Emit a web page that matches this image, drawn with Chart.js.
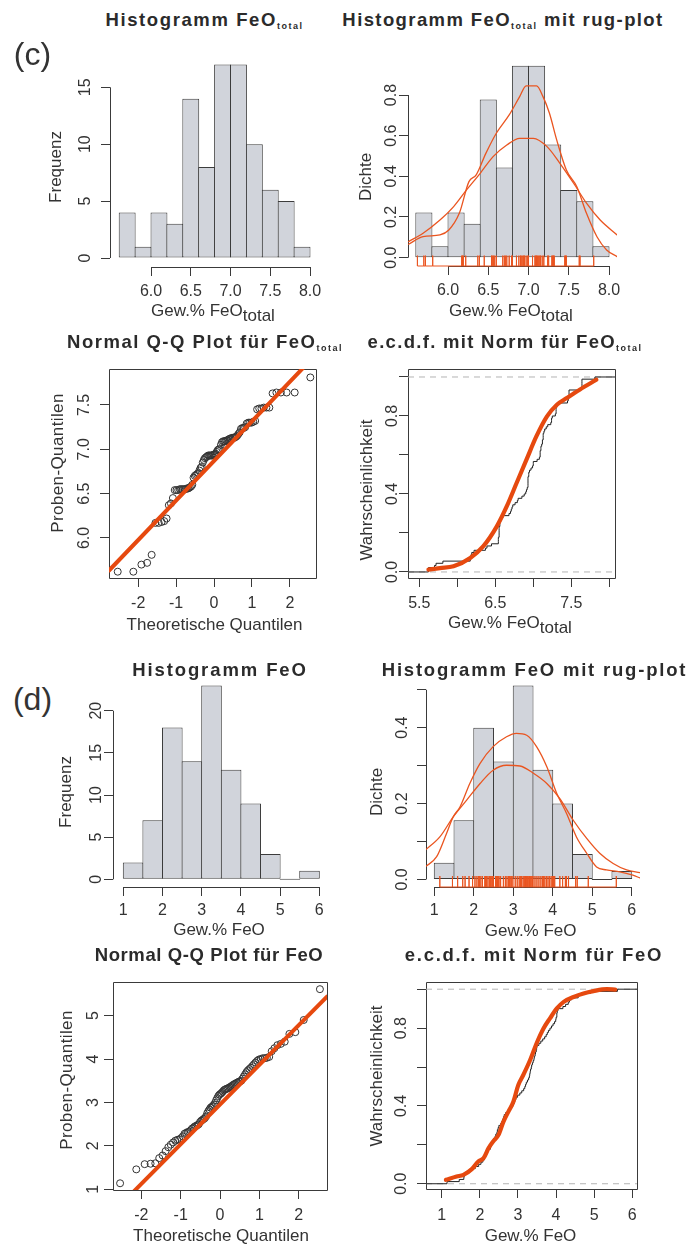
<!DOCTYPE html>
<html lang="de">
<head>
<meta charset="utf-8">
<title>FeO Verteilungen</title>
<script src="https://cdn.jsdelivr.net/npm/chart.js@4.4.1/dist/chart.umd.min.js"></script>
<style>
  body { margin: 0; background: #fff; }
  #fig { position: relative; width: 692px; height: 1247px; overflow: hidden;
         font-family: "Liberation Sans", Arial, sans-serif; color: #333; }
  #fig canvas { position: absolute; }
  .t { position: absolute; white-space: nowrap; line-height: 1; transform: translate(-50%, -50%); }
  .main { font-weight: bold; font-size: 18.5px; color: #2b2b2b; }
  .main .s { font-size: 9px; letter-spacing: 1.5px; position: relative; top: 3px; }
  .ax { font-size: 17px; }
  .ax .s { position: relative; top: 5px; }
  .rot { transform: translate(-50%, -50%) rotate(-90deg); }
  .tag { font-size: 32px; color: #333; }
</style>
</head>
<body>
<div id="fig"></div>
<script>
// ---- data (n = 90 for both oxides) ----
const normQuantiles = [
  -2.540, -2.128, -1.915, -1.764, -1.645, -1.545, -1.459, -1.383, -1.314, -1.251,
  -1.192, -1.137, -1.085, -1.036, -0.990, -0.945, -0.903, -0.862, -0.822, -0.783,
  -0.746, -0.710, -0.674, -0.640, -0.606, -0.573, -0.540, -0.508, -0.477, -0.446,
  -0.416, -0.385, -0.356, -0.326, -0.297, -0.268, -0.240, -0.210, -0.182, -0.154,
  -0.126, -0.098, -0.070, -0.042, -0.014, 0.014, 0.042, 0.070, 0.098, 0.126,
  0.154, 0.182, 0.210, 0.240, 0.268, 0.297, 0.326, 0.356, 0.385, 0.416,
  0.446, 0.477, 0.508, 0.540, 0.573, 0.606, 0.640, 0.674, 0.710, 0.746,
  0.783, 0.822, 0.862, 0.903, 0.945, 0.990, 1.036, 1.085, 1.137, 1.192,
  1.251, 1.314, 1.383, 1.459, 1.545, 1.645, 1.764, 1.915, 2.128, 2.540
];

// sorted samples (Q-Q plot y values / rug positions)
const feoTotal = [
  5.62, 5.62, 5.70, 5.72, 5.81,
  6.17, 6.17, 6.18, 6.19, 6.22, 6.37, 6.39,
  6.45, 6.54, 6.54, 6.54, 6.55, 6.55, 6.55, 6.55, 6.55, 6.56, 6.56, 6.57, 6.58, 6.60,
  6.68, 6.70, 6.71, 6.72, 6.73, 6.76, 6.79, 6.80,
  6.85, 6.88, 6.90, 6.91, 6.92, 6.93, 6.93, 6.93, 6.93, 6.93, 6.94, 6.94, 6.95, 6.97, 6.99, 7.00, 7.00,
  7.05, 7.08, 7.09, 7.09, 7.09, 7.10, 7.10, 7.11, 7.12, 7.12, 7.13, 7.13, 7.13, 7.14, 7.15, 7.17, 7.19,
  7.23, 7.24, 7.24, 7.25, 7.29, 7.30, 7.30, 7.30, 7.31, 7.32,
  7.45, 7.46, 7.46, 7.47, 7.47, 7.47,
  7.63, 7.64, 7.64, 7.64, 7.64,
  7.81
];
const feo = [
  1.14, 1.46,
  1.58, 1.59, 1.60, 1.72, 1.78, 1.88, 1.97,
  2.03, 2.08, 2.12, 2.14, 2.15, 2.18, 2.22, 2.28, 2.30, 2.32, 2.33, 2.36, 2.40, 2.42, 2.45, 2.46, 2.48, 2.50,
  2.55, 2.58, 2.60, 2.62, 2.64, 2.68, 2.75, 2.80, 2.84, 2.88, 2.90, 2.92, 2.95, 2.99,
  3.05, 3.10, 3.15, 3.18, 3.20, 3.22, 3.25, 3.28, 3.30, 3.31, 3.32, 3.33, 3.35, 3.36, 3.38, 3.40,
  3.42, 3.43, 3.45, 3.46, 3.48, 3.49, 3.50,
  3.55, 3.60, 3.65, 3.70, 3.74, 3.77, 3.80, 3.84, 3.88, 3.92, 3.96, 3.99, 4.00,
  4.02, 4.02, 4.03, 4.05, 4.18, 4.25, 4.32, 4.35, 4.40,
  4.58, 4.62, 4.90,
  5.61
];

const feoTotalBreaks = [5.6, 5.8, 6.0, 6.2, 6.4, 6.6, 6.8, 7.0, 7.2, 7.4, 7.6, 7.8, 8.0];
const feoTotalCounts = [4, 1, 4, 3, 14, 8, 17, 17, 10, 6, 5, 1];
const feoTotalDensity = [0.222, 0.056, 0.222, 0.167, 0.778, 0.444, 0.944, 0.944, 0.556, 0.333, 0.278, 0.056];
const feoBreaks = [1.0, 1.5, 2.0, 2.5, 3.0, 3.5, 4.0, 4.5, 5.0, 5.5, 6.0];
const feoCounts = [2, 7, 18, 14, 23, 13, 9, 3, 0, 1];
const feoDensity = [0.044, 0.156, 0.400, 0.311, 0.511, 0.289, 0.200, 0.067, 0, 0.022];

// density curves (kernel and normal)
const feoTotalKdeX = [5.51, 5.69, 5.90, 6.01, 6.14, 6.26, 6.35, 6.47, 6.60, 6.76, 6.89, 6.97, 7.10, 7.18, 7.26, 7.35, 7.47, 7.60, 7.72, 7.85, 7.97, 8.10];
const feoTotalKdeY = [0.066, 0.103, 0.112, 0.136, 0.218, 0.374, 0.407, 0.513, 0.612, 0.702, 0.792, 0.845, 0.845, 0.792, 0.710, 0.579, 0.431, 0.349, 0.218, 0.103, 0.038, 0.005];
const feoTotalNormX = [5.51, 5.69, 5.90, 6.07, 6.23, 6.40, 6.56, 6.73, 6.89, 7.06, 7.23, 7.39, 7.56, 7.72, 7.89, 8.10];
const feoTotalNormY = [0.079, 0.120, 0.185, 0.251, 0.333, 0.415, 0.497, 0.554, 0.587, 0.587, 0.546, 0.464, 0.366, 0.268, 0.185, 0.112];
const feoKdeX = [0.77, 1.06, 1.31, 1.48, 1.65, 1.90, 2.16, 2.49, 2.83, 3.08, 3.34, 3.59, 3.85, 4.10, 4.35, 4.60, 4.86, 5.11, 5.36, 5.70, 6.03, 6.21];
const feoKdeY = [0.033, 0.060, 0.121, 0.165, 0.191, 0.253, 0.306, 0.350, 0.376, 0.385, 0.380, 0.350, 0.297, 0.227, 0.174, 0.112, 0.069, 0.033, 0.025, 0.020, 0.011, 0.004];
const feoNormX = [0.77, 1.14, 1.48, 1.82, 2.16, 2.49, 2.83, 3.17, 3.51, 3.85, 4.18, 4.52, 4.86, 5.19, 5.53, 5.87, 6.21];
const feoNormY = [0.077, 0.112, 0.165, 0.209, 0.253, 0.288, 0.301, 0.299, 0.280, 0.253, 0.213, 0.156, 0.108, 0.069, 0.042, 0.025, 0.018];

// fitted normal over the e.c.d.f.
const feoTotalCdfX = [5.62, 5.77, 5.95, 6.17, 6.34, 6.52, 6.65, 6.78, 6.91, 7.04, 7.18, 7.31, 7.44, 7.61, 7.83];
const feoTotalCdfY = [0.012, 0.020, 0.029, 0.072, 0.131, 0.234, 0.336, 0.456, 0.576, 0.695, 0.798, 0.858, 0.892, 0.935, 0.986];
const feoCdfX = [1.11, 1.39, 1.57, 1.79, 1.96, 2.10, 2.23, 2.35, 2.49, 2.62, 2.75, 2.88, 3.01, 3.14, 3.32, 3.49, 3.67, 3.84, 4.02, 4.20, 4.46, 4.72, 4.98, 5.33, 5.55];
const feoCdfY = [0.020, 0.037, 0.046, 0.075, 0.114, 0.132, 0.183, 0.217, 0.251, 0.319, 0.371, 0.422, 0.508, 0.559, 0.636, 0.722, 0.798, 0.850, 0.901, 0.935, 0.960, 0.978, 0.990, 1.000, 0.998];

// qqline: intercept, slope
const feoTotalQQLine = [6.869, 0.446];
const feoQQLine = [2.954, 0.914];

// ---- ticks ----
const feoTotalTicks = [6.0, 6.5, 7.0, 7.5, 8.0];
const feoTotalTickLabels = ['6.0', '6.5', '7.0', '7.5', '8.0'];
const countTicksC = [0, 5, 10, 15];
const countLabelsC = ['0', '5', '10', '15'];
const densTicksC = [0, 0.2, 0.4, 0.6, 0.8];
const densLabelsC = ['0.0', '0.2', '0.4', '0.6', '0.8'];
const qqTicks = [-2, -1, 0, 1, 2];
const qqLabels = ['-2', '-1', '0', '1', '2'];
const qqTicksYC = [6.0, 6.5, 7.0, 7.5];
const qqLabelsYC = ['6.0', '6.5', '7.0', '7.5'];
const cdfTicksC = [5.5, 6.0, 6.5, 7.0, 7.5, 8.0];
const cdfLabelsC = ['5.5', '', '6.5', '', '7.5', ''];
const probTicks = [0, 0.2, 0.4, 0.6, 0.8, 1.0];
const probLabels = ['0.0', '', '0.4', '', '0.8', ''];
const feoTicks = [1, 2, 3, 4, 5, 6];
const feoTickLabels = ['1', '2', '3', '4', '5', '6'];
const countTicksD = [0, 5, 10, 15, 20];
const countLabelsD = ['0', '5', '10', '15', '20'];
const densTicksD = [0, 0.1, 0.2, 0.3, 0.4, 0.5];
const densLabelsD = ['0.0', '', '0.2', '', '0.4', ''];
const qqTicksYD = [1, 2, 3, 4, 5];
const qqLabelsYD = ['1', '2', '3', '4', '5'];

// ---- style ----
const TXT = '#333333';
const AXIS = '#3a3a3a';
const BAR = '#d1d4db';
const BAR_EDGE = '#3c3c3c';
const ORANGE = '#e6490f';
const THIN_ORANGE = '#ea5520';

Chart.defaults.font.family = '"Liberation Sans", Arial, sans-serif';
Chart.defaults.color = TXT;

const fig = document.getElementById('fig');

// R-like axes: axis line only between first and last tick, or a full box
const rAxes = {
  id: 'rAxes',
  beforeDatasetsDraw(chart, args, opts) {
    if (!opts || !opts.mode) return;
    const { ctx, chartArea: a, scales: { x, y } } = chart;
    const px = (v) => Math.round(v) + 0.5;
    ctx.save();
    ctx.strokeStyle = AXIS;
    ctx.lineWidth = 1;
    ctx.beginPath();
    if (opts.mode === 'box') {
      ctx.rect(px(a.left), px(a.top), Math.round(a.right - a.left), Math.round(a.bottom - a.top));
    } else {
      const xt = x.ticks;
      const yt = y.ticks;
      ctx.moveTo(x.getPixelForValue(xt[0].value), px(a.bottom));
      ctx.lineTo(x.getPixelForValue(xt[xt.length - 1].value), px(a.bottom));
      ctx.moveTo(px(a.left), y.getPixelForValue(yt[0].value));
      ctx.lineTo(px(a.left), y.getPixelForValue(yt[yt.length - 1].value));
    }
    ctx.stroke();
    ctx.restore();
  },
};
Chart.register(rAxes);

const pairs = (xs, ys) => xs.map((x, i) => ({ x, y: ys[i] }));
const binMids = (br) => br.slice(0, -1).map((b, i) => (b + br[i + 1]) / 2);

function place(area) {
  const c = document.createElement('canvas');
  const w = Math.round(area.r - area.l + 80);
  const h = Math.round(area.b - area.t + 60);
  c.width = w;
  c.height = h;
  Object.assign(c.style, { left: area.l - 60 + 'px', top: area.t - 20 + 'px', width: w + 'px', height: h + 'px' });
  fig.appendChild(c);
  return c;
}

function gridOpts() {
  return { display: true, offset: false, drawOnChartArea: false, drawTicks: true, tickLength: 9, color: AXIS, lineWidth: 1 };
}

function xScale(min, max, ticks, labels, pad) {
  return {
    type: 'linear', position: 'bottom', min, max, offset: false,
    afterBuildTicks: (s) => { s.ticks = ticks.map((value) => ({ value })); },
    afterFit: (s) => { s.height = 40; },
    ticks: { autoSkip: false, minRotation: 0, maxRotation: 0, padding: pad, color: TXT, font: { size: 16 }, callback: (v, i) => labels[i] },
    grid: gridOpts(),
    border: { display: false },
  };
}

function yScale(min, max, ticks, labels, pad) {
  return {
    type: 'linear', position: 'left', min, max,
    afterBuildTicks: (s) => { s.ticks = ticks.map((value) => ({ value })); },
    afterFit: (s) => { s.width = 60; },
    ticks: { autoSkip: false, minRotation: 90, maxRotation: 90, crossAlign: 'center', padding: pad, color: TXT, font: { size: 16 }, callback: (v, i) => labels[i] },
    grid: gridOpts(),
    border: { display: false },
  };
}

function baseOpts(x, y, mode) {
  return {
    responsive: false, animation: false, events: [],
    layout: { padding: { top: 20, right: 20, left: 0, bottom: 0 } },
    scales: { x, y },
    plugins: { legend: { display: false }, tooltip: { enabled: false }, rAxes: { mode } },
  };
}

function histBars(breaks, vals, pct) {
  return {
    type: 'bar', data: pairs(binMids(breaks), vals),
    backgroundColor: BAR, borderColor: BAR_EDGE, borderWidth: 1, borderSkipped: false,
    barPercentage: pct, categoryPercentage: 1, minBarLength: 1, order: 10,
  };
}

function curve(pts, color, width, extra) {
  return Object.assign({
    type: 'line', data: pts, borderColor: color, borderWidth: width, pointRadius: 0,
    fill: false, cubicInterpolationMode: 'monotone', borderCapStyle: 'round', borderJoinStyle: 'round', order: 1,
  }, extra || {});
}

function rug(vals, lo, hi) {
  const pts = [];
  vals.forEach((v) => { pts.push({ x: v, y: lo }, { x: v, y: hi }, { x: v, y: lo }); });
  return { type: 'line', data: pts, borderColor: THIN_ORANGE, borderWidth: 1, pointRadius: 0, tension: 0, clip: 4, order: 0 };
}

function ecdfSteps(sorted, xmin, xmax) {
  const n = sorted.length;
  const pts = [{ x: xmin, y: 0 }];
  sorted.forEach((v, i) => pts.push({ x: v, y: (i + 1) / n }));
  pts.push({ x: xmax, y: 1 });
  return { type: 'line', data: pts, stepped: true, borderColor: '#222', borderWidth: 1, pointRadius: 0, order: 2 };
}

function hDashed(yv, xmin, xmax) {
  return { type: 'line', data: [{ x: xmin, y: yv }, { x: xmax, y: yv }], borderColor: '#b4b4b4', borderWidth: 1, borderDash: [6, 5], pointRadius: 0, order: 3 };
}

function qqPoints(ys) {
  return {
    type: 'scatter', data: pairs(normQuantiles, ys), showLine: false,
    pointRadius: 3.5, pointBackgroundColor: 'rgba(0,0,0,0)', pointBorderColor: '#333', pointBorderWidth: 1, order: 1,
  };
}

function qqLine(coef, xmin, xmax) {
  const pts = [xmin, xmax].map((x) => ({ x, y: coef[0] + coef[1] * x }));
  return curve(pts, ORANGE, 4, { cubicInterpolationMode: 'default', tension: 0, order: 0 });
}

// ---- (c) FeO total ----
const A1 = { l: 110, t: 56, r: 317, b: 267 };
new Chart(place(A1), {
  type: 'bar',
  data: { datasets: [histBars(feoTotalBreaks, feoTotalCounts, 1.063)] },
  options: baseOpts(
    xScale(5.484, 8.088, feoTotalTicks, feoTotalTickLabels, 6.4),
    yScale(-0.79, 17.75, countTicksC, countLabelsC, 6.1), 'axes'),
});

const A2 = { l: 408, t: 58, r: 617, b: 266 };
new Chart(place(A2), {
  type: 'bar',
  data: {
    datasets: [
      histBars(feoTotalBreaks, feoTotalDensity, 1.062),
      curve(pairs(feoTotalKdeX, feoTotalKdeY), THIN_ORANGE, 1.3),
      curve(pairs(feoTotalNormX, feoTotalNormY), THIN_ORANGE, 1.3),
      rug(feoTotal, -0.041, 0.010),
    ],
  },
  options: baseOpts(
    xScale(5.503, 8.099, feoTotalTicks, feoTotalTickLabels, 6.4),
    yScale(-0.041, 0.982, densTicksC, densLabelsC, -4.1), 'axes'),
});

const A3 = { l: 109, t: 369, r: 316, b: 578 };
new Chart(place(A3), {
  type: 'scatter',
  data: { datasets: [qqPoints(feoTotal), qqLine(feoTotalQQLine, -2.77, 2.69)] },
  options: baseOpts(
    xScale(-2.77, 2.69, qqTicks, qqLabels, 7.4),
    yScale(5.549, 7.905, qqTicksYC, qqLabelsYC, 3.9), 'box'),
});

const A4 = { l: 408, t: 369, r: 615, b: 578 };
new Chart(place(A4), {
  type: 'scatter',
  data: {
    datasets: [
      hDashed(0, 5.351, 8.075),
      hDashed(1, 5.351, 8.075),
      ecdfSteps(feoTotal, 5.351, 8.075),
      curve(pairs(feoTotalCdfX, feoTotalCdfY), ORANGE, 4.2, { order: 0 }),
    ],
  },
  options: baseOpts(
    xScale(5.351, 8.075, cdfTicksC, cdfLabelsC, 7.4),
    yScale(-0.031, 1.041, probTicks, probLabels, -4.3), 'box'),
});

// ---- (d) FeO ----
const A5 = { l: 113, t: 678, r: 327, b: 887 };
new Chart(place(A5), {
  type: 'bar',
  data: { datasets: [histBars(feoBreaks, feoCounts, 1.051)] },
  options: baseOpts(
    xScale(0.737, 6.196, feoTicks, feoTickLabels, 5.4),
    yScale(-0.913, 23.88, countTicksD, countLabelsD, -1.4), 'axes'),
});

const A6 = { l: 426, t: 678, r: 640, b: 887 };
new Chart(place(A6), {
  type: 'bar',
  data: {
    datasets: [
      histBars(feoBreaks, feoDensity, 1.051),
      curve(pairs(feoKdeX, feoKdeY), THIN_ORANGE, 1.3),
      curve(pairs(feoNormX, feoNormY), THIN_ORANGE, 1.3),
      rug(feo, -0.020, 0.009),
    ],
  },
  options: baseOpts(
    xScale(0.79, 6.21, feoTicks, feoTickLabels, 5.4),
    yScale(-0.020, 0.531, densTicksD, densLabelsD, 3.4), 'axes'),
});

const A7 = { l: 113, t: 982, r: 327, b: 1190 };
new Chart(place(A7), {
  type: 'scatter',
  data: { datasets: [qqPoints(feo), qqLine(feoQQLine, -2.72, 2.72)] },
  options: baseOpts(
    xScale(-2.72, 2.72, qqTicks, qqLabels, 7.4),
    yScale(0.985, 5.775, qqTicksYD, qqLabelsYD, 6.05), 'box'),
});

const A8 = { l: 426, t: 982, r: 637, b: 1189 };
new Chart(place(A8), {
  type: 'scatter',
  data: {
    datasets: [
      hDashed(0, 0.588, 6.123),
      hDashed(1, 0.588, 6.123),
      ecdfSteps(feo, 0.588, 6.123),
      curve(pairs(feoCdfX, feoCdfY), ORANGE, 4.2, { order: 0 }),
    ],
  },
  options: baseOpts(
    xScale(0.588, 6.123, feoTicks, feoTickLabels, 8.4),
    yScale(-0.027, 1.037, probTicks, probLabels, 3.9), 'box'),
});

// ---- text ----
function text(html, x, y, cls, style) {
  const d = document.createElement('div');
  d.className = 't ' + cls;
  d.innerHTML = html;
  d.style.left = x + 'px';
  d.style.top = y + 'px';
  if (style) Object.assign(d.style, style);
  fig.appendChild(d);
}

const SUB = '<span class="s">total</span>';

text('(c)', 32.5, 54, 'tag');
text('(d)', 32.5, 699, 'tag');

text('Histogramm FeO' + SUB, 204.5, 20, 'main', { letterSpacing: '1.6px' });
text('Histogramm FeO' + SUB + ' mit rug-plot', 503, 20, 'main', { letterSpacing: '1.4px' });
text('Normal Q-Q Plot für FeO' + SUB, 205, 341.7, 'main', { letterSpacing: '1.5px' });
text('e.c.d.f. mit Norm für FeO' + SUB, 505, 342, 'main', { letterSpacing: '1.3px' });
text('Histogramm FeO', 220, 670, 'main', { letterSpacing: '1.9px' });
text('Histogramm FeO mit rug-plot', 534.5, 670, 'main', { letterSpacing: '1.8px' });
text('Normal Q-Q Plot für FeO', 209, 954.5, 'main', { letterSpacing: '0.6px' });
text('e.c.d.f. mit Norm für FeO', 534, 954.5, 'main', { letterSpacing: '1.7px' });

text('Frequenz', 55, 167, 'ax rot');
text('Dichte', 365, 177, 'ax rot');
text('Proben-Quantilen', 57, 462.5, 'ax rot', { letterSpacing: '0.4px' });
text('Wahrscheinlichkeit', 366, 490, 'ax rot');
text('Frequenz', 65, 792, 'ax rot');
text('Dichte', 376, 792, 'ax rot');
text('Proben-Quantilen', 66, 1080, 'ax rot', { letterSpacing: '0.4px' });
text('Wahrscheinlichkeit', 376, 1076, 'ax rot');

text('Gew.% FeO' + SUB, 213, 309.5, 'ax');
text('Gew.% FeO' + SUB, 511, 309.5, 'ax');
text('Theoretische Quantilen', 214.5, 623.5, 'ax');
text('Gew.% FeO' + SUB, 510, 621.7, 'ax');
text('Gew.% FeO', 219, 929, 'ax');
text('Gew.% FeO', 530.7, 929.5, 'ax');
text('Theoretische Quantilen', 221, 1235, 'ax');
text('Gew.% FeO', 530.5, 1235, 'ax');
</script>
</body>
</html>
